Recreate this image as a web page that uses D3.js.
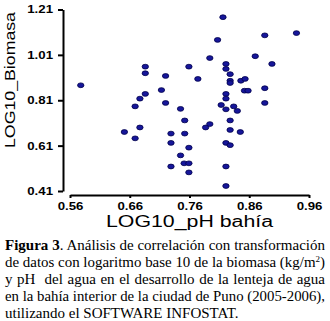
<!DOCTYPE html>
<html><head><meta charset="utf-8">
<script src="https://cdn.jsdelivr.net/npm/d3@7"></script>
<style>html,body{margin:0;padding:0;background:#fff;}svg{display:block;}</style>
</head><body>
<script>
// Data
const phLog = [0.816,0.939,0.886,0.807,0.794,0.870,0.898,0.821,0.821,0.759,0.686,0.686,0.720,0.828,0.774,0.828,0.828,0.846,0.853,0.578,0.713,0.852,0.858,0.886,0.686,0.677,0.821,0.821,0.720,0.886,0.669,0.745,0.813,0.821,0.834,0.840,0.752,0.828,0.677,0.651,0.669,0.729,0.752,0.787,0.794,0.828,0.845,0.729,0.759,0.821,0.828,0.745,0.751,0.759,0.729,0.759,0.821,0.821];
const biomasaLog = [1.176,1.106,1.096,1.076,0.996,1.004,0.970,0.970,0.948,0.958,0.958,0.929,0.917,0.925,0.904,0.896,0.886,0.896,0.904,0.876,0.855,0.852,0.852,0.863,0.838,0.817,0.838,0.817,0.798,0.798,0.783,0.772,0.789,0.770,0.783,0.763,0.721,0.721,0.690,0.670,0.642,0.663,0.663,0.690,0.705,0.679,0.670,0.622,0.601,0.622,0.612,0.567,0.532,0.532,0.518,0.492,0.518,0.432];
const xTicks = [0.56,0.66,0.76,0.86,0.96];
const yTicks = [0.41,0.61,0.81,1.01,1.21];
const xTitle = "LOG10_pH bahía";
const yTitle = "LOG10_Biomasa";
const captionLines = [
  [{t:"Figura 3", b:true},{t:". Análisis de correlación con transformación"}],
  [{t:"de datos con logaritmo base 10 de la biomasa (kg/m"},{t:"2", sup:true},{t:")"}],
  [{t:"y pH  del agua en el desarrollo de la lenteja de agua"}],
  [{t:"en la bahía interior de la ciudad de Puno (2005-2006),"}],
  [{t:"utilizando el SOFTWARE INFOSTAT."}]
];

const W = 330, H = 321;
const svg = d3.select("body").append("svg").attr("width", W).attr("height", H);

const x = d3.scaleLinear().domain([0.56, 0.96]).range([70, 309]);
const y = d3.scaleLinear().domain([0.41, 1.21]).range([191, 9.5]);
const stretch = 1.26;

const fmt = d3.format(".2f");
const gy = svg.append("g").attr("transform", "translate(63,0)")
  .call(d3.axisLeft(y).tickValues(yTicks).tickSize(5).tickSizeOuter(0).tickFormat(fmt));
const gx = svg.append("g").attr("transform", "translate(0,195)")
  .call(d3.axisBottom(x).tickValues(xTicks).tickSize(3).tickSizeOuter(0).tickFormat(fmt));

[gx, gy].forEach(g => {
  g.select(".domain").attr("stroke", "#000").attr("stroke-width", 2);
  g.selectAll(".tick line").attr("stroke", "#000").attr("stroke-width", 2);
  g.selectAll(".tick text")
    .attr("font-family", "'Liberation Sans', Arial, sans-serif")
    .attr("font-weight", "bold").attr("font-size", 10.5).attr("fill", "#000");
});
gy.selectAll(".tick text").attr("x", -10);
gx.selectAll(".tick text").attr("y", 14.5).attr("dy", null);
svg.selectAll(".tick text").each(function() {
  const w = this.getComputedTextLength();
  d3.select(this).attr("textLength", w * stretch).attr("lengthAdjust", "spacingAndGlyphs");
});

// axis titles
svg.append("text").attr("x", 189.5).attr("y", 226.5).attr("text-anchor", "middle")
  .attr("font-family", "'Liberation Sans', Arial, sans-serif").attr("font-size", 16)
  .attr("textLength", 167).attr("lengthAdjust", "spacingAndGlyphs").text(xTitle);
svg.append("text").attr("transform", "translate(15,80) rotate(-90)").attr("text-anchor", "middle")
  .attr("font-family", "'Liberation Sans', Arial, sans-serif").attr("font-size", 14)
  .attr("textLength", 136).attr("lengthAdjust", "spacingAndGlyphs").text(yTitle);

// points
svg.append("g").selectAll("ellipse").data(phLog.map((v, i) => [v, biomasaLog[i]]))
  .join("ellipse")
  .attr("cx", d => x(d[0])).attr("cy", d => y(d[1]))
  .attr("rx", 3.2).attr("ry", 2.4)
  .attr("fill", "#16169a").attr("stroke", "#00004a").attr("stroke-width", 0.8);

// caption
const capX = 5, capW = 320, base0 = 250, lh = 17;
captionLines.forEach((runs, i) => {
  const t = svg.append("text").attr("x", capX).attr("y", base0 + i * lh)
    .attr("font-family", "'Liberation Serif', 'Times New Roman', serif")
    .attr("font-size", 15).attr("fill", "#000").style("white-space", "pre");
  runs.forEach((r, j) => {
    const ts = t.append("tspan").text(r.t);
    if (r.b) ts.attr("font-weight", "bold");
    if (r.sup) ts.attr("font-size", 9).attr("dy", -5.5);
    if (j > 0 && runs[j-1].sup) ts.attr("dy", 5.5);
  });
  if (i < captionLines.length - 1) {
    const text = runs.map(r => r.t).join("");
    const spaces = (text.match(/ /g) || []).length;
    const w = t.node().getComputedTextLength();
    if (w < capW && spaces > 0) {
      t.attr("word-spacing", (capW - w) / spaces);
    } else if (w > capW) {
      t.attr("textLength", capW).attr("lengthAdjust", "spacingAndGlyphs");
    }
  }
});
</script>
</body></html>
